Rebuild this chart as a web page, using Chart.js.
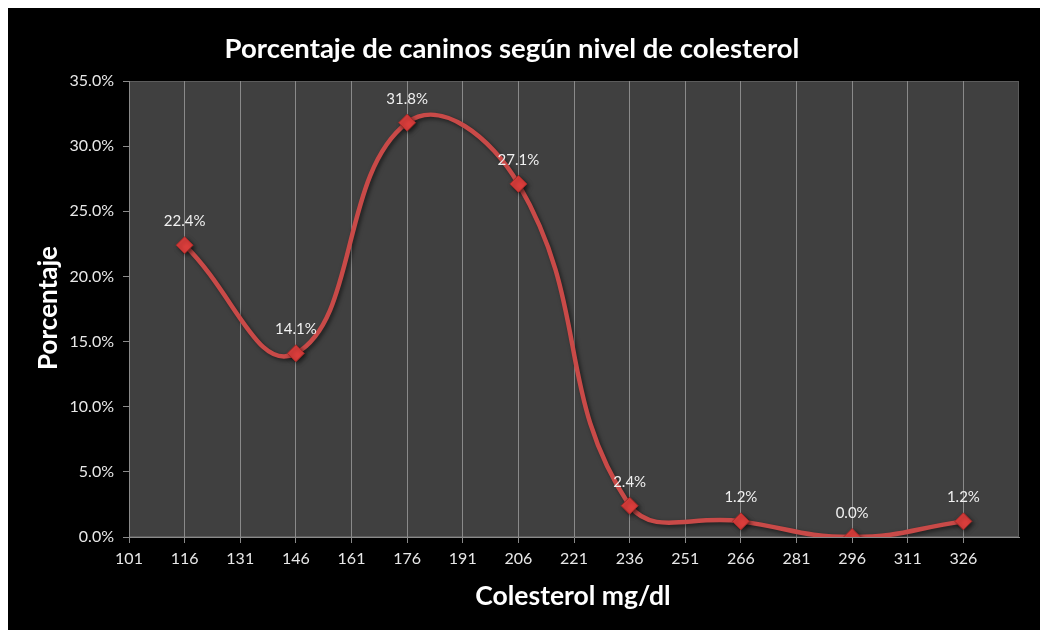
<!DOCTYPE html>
<html><head><meta charset="utf-8">
<script src="https://cdn.jsdelivr.net/npm/chart.js@4"></script>
<style>html,body{margin:0;padding:0;background:#fff;}canvas{display:block}</style>
</head><body>
<canvas id="c" width="1040" height="630"></canvas>
<script>
const colesterol = [116, 146, 176, 206, 236, 266, 296, 326];
const porcentaje = [22.4, 14.1, 31.8, 27.1, 2.4, 1.2, 0.0, 1.2];
const xTicks = [101, 116, 131, 146, 161, 176, 191, 206, 221, 236, 251, 266, 281, 296, 311, 326];
const yTicks = [0, 5, 10, 15, 20, 25, 30, 35];
const chartTitle = 'Porcentaje de caninos según nivel de colesterol';
const yTitle = 'Porcentaje';
const xTitle = 'Colesterol mg/dl';

const FONT = 'Lato, "Open Sans", sans-serif';

const bgPlugin = {
  id: 'bg',
  beforeDraw(chart) {
    const c = chart.ctx, a = chart.chartArea;
    c.save();
    c.fillStyle = '#ffffff';
    c.fillRect(0, 0, chart.width, chart.height);
    c.fillStyle = '#000000';
    c.fillRect(8, 8, chart.width - 8, chart.height - 8);
    c.fillStyle = '#404040';
    c.fillRect(a.left, a.top, a.right - a.left, a.bottom - a.top);
    c.strokeStyle = '#5c5c5c';
    c.lineWidth = 1;
    c.strokeRect(a.left + 0.5, a.top + 0.5, a.right - a.left - 1, a.bottom - a.top - 1);
    c.restore();
  },
  beforeDatasetsDraw(chart) {
    const c = chart.ctx;
    c.save();
    c.shadowColor = 'rgba(0,0,0,0.55)';
    c.shadowBlur = 4;
    c.shadowOffsetX = 2;
    c.shadowOffsetY = 2;
  },
  afterDatasetsDraw(chart) {
    const c = chart.ctx;
    c.restore();
    const meta = chart.getDatasetMeta(0);
    c.save();
    c.fillStyle = '#f0f0f0';
    c.font = '15px ' + FONT;
    c.textAlign = 'center';
    c.textBaseline = 'middle';
    meta.data.forEach((pt, i) => {
      c.fillText(porcentaje[i].toFixed(1) + '%', pt.x, pt.y - 24);
    });
    c.restore();
  },
  afterDraw(chart) {
    const c = chart.ctx;
    c.save();
    c.fillStyle = '#ffffff';
    c.textAlign = 'center';
    c.textBaseline = 'alphabetic';
    c.font = 'bold 27.5px ' + FONT;
    c.fillText(chartTitle, 512, 58);
    c.font = 'bold 26.5px ' + FONT;
    c.fillText(xTitle, 573, 605);
    c.font = 'bold 26px ' + FONT;
    c.translate(57, 308);
    c.rotate(-Math.PI / 2);
    c.fillText(yTitle, 0, 0);
    c.restore();
  }
};

new Chart(document.getElementById('c'), {
  type: 'line',
  data: {
    datasets: [{
      data: colesterol.map((x, i) => ({ x: x, y: porcentaje[i] })),
      borderColor: '#c94a48',
      borderWidth: 4.5,
      tension: 0.45,
      pointStyle: 'rectRot',
      pointRadius: 8.5,
      pointHoverRadius: 8.5,
      pointBackgroundColor: '#dc3e3c',
      pointBorderColor: '#a52a28',
      pointBorderWidth: 1,
      fill: false
    }]
  },
  options: {
    responsive: false,
    animation: false,
    devicePixelRatio: 1,
    layout: { padding: { top: 81, right: 21, left: 0, bottom: 0 } },
    plugins: { legend: { display: false }, tooltip: { enabled: false }, title: { display: false } },
    scales: {
      x: {
        type: 'linear',
        min: 101,
        max: 341,
        afterBuildTicks: s => { s.ticks = xTicks.map(v => ({ value: v })); },
        afterFit: s => { s.height = 93; },
        ticks: { color: '#e8e8e8', font: { family: FONT, size: 16 }, padding: 6, maxRotation: 0, autoSkip: false },
        grid: { color: '#8a8a8a', lineWidth: 1, tickLength: 6 },
        border: { color: '#8a8a8a' }
      },
      y: {
        min: 0,
        max: 35,
        afterBuildTicks: s => { s.ticks = yTicks.map(v => ({ value: v })); },
        afterFit: s => { s.width = 129; },
        ticks: { color: '#e8e8e8', font: { family: FONT, size: 16 }, padding: 9, callback: v => v.toFixed(1) + '%' },
        grid: { drawOnChartArea: false, color: '#8a8a8a', tickLength: 6 },
        border: { color: '#8a8a8a' }
      }
    }
  },
  plugins: [bgPlugin]
});
</script>
</body></html>
